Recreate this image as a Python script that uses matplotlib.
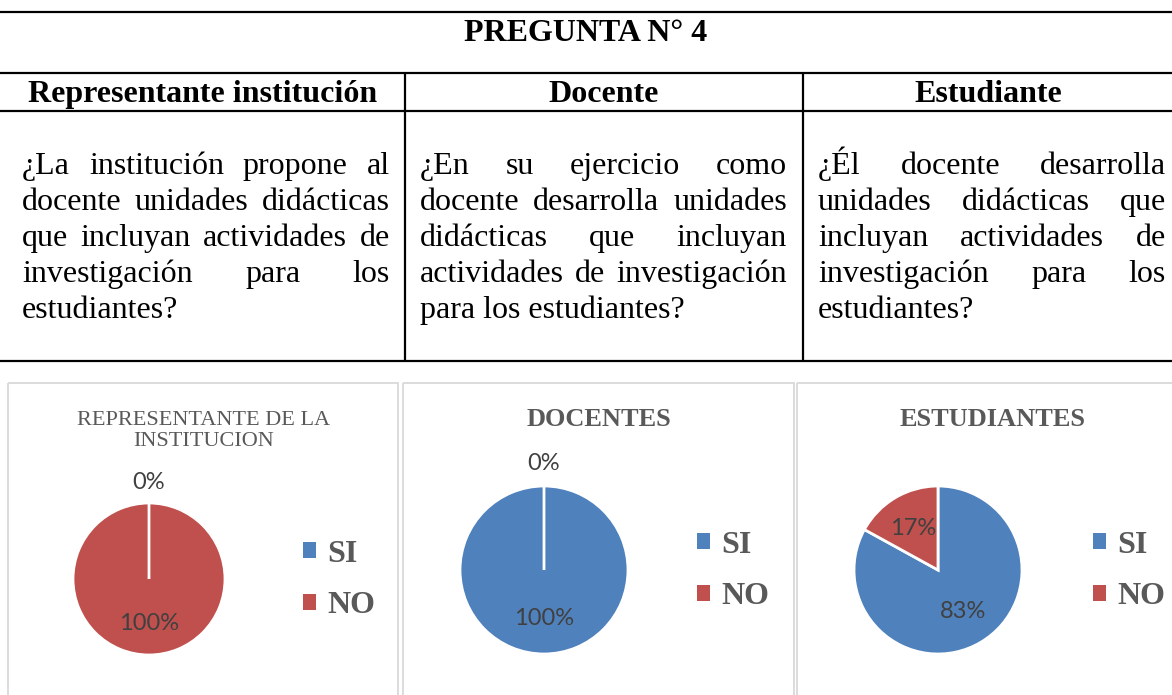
import matplotlib
matplotlib.use("Agg")
import matplotlib.pyplot as plt
from matplotlib.patches import Rectangle, Patch

# --- data ---
pregunta = "PREGUNTA N° 4"
grupos = ["Representante institución", "Docente", "Estudiante"]
preguntas = [
    ["¿La institución propone al",
     "docente unidades didácticas",
     "que incluyan actividades de",
     "investigación para los",
     "estudiantes?"],
    ["¿En su ejercicio como",
     "docente desarrolla unidades",
     "didácticas que incluyan",
     "actividades de investigación",
     "para los estudiantes?"],
    ["¿Él docente desarrolla",
     "unidades didácticas que",
     "incluyan actividades de",
     "investigación para los",
     "estudiantes?"],
]
titulos = ["REPRESENTANTE DE LA\nINSTITUCION", "DOCENTES", "ESTUDIANTES"]
categorias = ["SI", "NO"]
colores = ["#4f81bd", "#c0504d"]
si = [0, 100, 83]
no = [100, 0, 17]

W, H = 1172, 695
SERIF = "Liberation Serif"

fig = plt.figure(figsize=(W / 100, H / 100), dpi=100)
bg = fig.add_axes([0, 0, 1, 1])
bg.set_xlim(0, W)
bg.set_ylim(H, 0)
bg.axis("off")
renderer = fig.canvas.get_renderer()

# table lines
for y in [12, 73, 111, 361]:
    bg.plot([0, W], [y, y], color="black", lw=1.6, solid_capstyle="butt")
for x in [405, 803]:
    bg.plot([x, x], [73, 361], color="black", lw=1.6, solid_capstyle="butt")

bg.text(586, 41, pregunta, ha="center", va="baseline", family=SERIF,
        fontweight="bold", fontsize=23)
for xc, g in zip([203, 604, 988], grupos):
    bg.text(xc, 102, g, ha="center", va="baseline", family=SERIF,
            fontweight="bold", fontsize=23)


def justified(line, x0, x1, y, stretch):
    if not stretch:
        bg.text(x0, y, line, ha="left", va="baseline", family=SERIF, fontsize=23)
        return
    words = line.split()
    texts = [bg.text(0, y, w, ha="left", va="baseline", family=SERIF, fontsize=23)
             for w in words]
    widths = [t.get_window_extent(renderer).width for t in texts]
    gap = (x1 - x0 - sum(widths)) / (len(words) - 1)
    x = x0
    for t, w in zip(texts, widths):
        t.set_x(x)
        x += w + gap


cols = [(22, 390), (420, 787), (818, 1166)]
for (x0, x1), lines in zip(cols, preguntas):
    for i, line in enumerate(lines):
        justified(line, x0, x1, 174 + 36 * i, i < len(lines) - 1)

# chart boxes
for x0, x1 in [(8, 398), (403, 794), (797, 1190)]:
    bg.add_patch(Rectangle((x0, 383), x1 - x0, 400, fill=False,
                           edgecolor="#d9d9d9", lw=1.3))

# pies
pies = [  # center x, center y, radius, legend x, legend y
    (149, 579, 76, 303, 580),
    (544, 570, 84, 697, 571),
    (938, 570, 84, 1093, 571),
]
title_x = [204, 599, 993]
for k, (cx, cy, r, lx, ly) in enumerate(pies):
    ax = fig.add_axes([(cx - r) / W, 1 - (cy + r) / H, 2 * r / W, 2 * r / H])
    vals = [si[k], no[k]]
    wedges, _, autos = ax.pie(vals, colors=colores, startangle=90, counterclock=False,
                              autopct="%1.0f%%", pctdistance=0.58,
                              wedgeprops=dict(edgecolor="white", linewidth=2),
                              textprops=dict(family="Lato", fontsize=17, color="#404040"))
    for v, w, t in zip(vals, wedges, autos):
        if v == 0:
            t.set_position((0, 1.27))
            w.set_zorder(3)
    ax.set_xlim(-1, 1)
    ax.set_ylim(-1, 1)
    handles = [Patch(facecolor=c, edgecolor="none") for c in colores]
    ax.legend(handles, categorias, loc="center left", bbox_to_anchor=(lx / W, 1 - ly / H),
              bbox_transform=fig.transFigure, frameon=False, handlelength=0.4,
              handleheight=0.4, handletextpad=0.35, labelspacing=0.7, borderpad=0,
              borderaxespad=0, labelcolor="#595959",
              prop=dict(family=SERIF, weight="bold", size=23))
    if k == 0:
        bg.text(title_x[k], 431, titulos[k], ha="center", va="center", family=SERIF,
                fontsize=16, color="#595959", linespacing=1.2)
    else:
        bg.text(title_x[k], 419, titulos[k], ha="center", va="center", family=SERIF,
                fontsize=19, fontweight="bold", color="#595959")

fig.savefig("out.png", dpi=100)
